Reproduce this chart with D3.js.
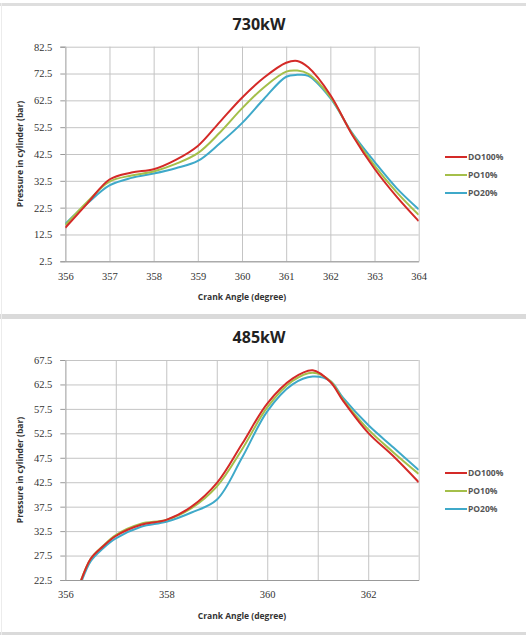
<!DOCTYPE html>
<meta charset="utf-8">
<style>
body { margin: 0; background: #fff; }
.grid line { stroke: #c4c4c4; stroke-width: 1; }
.tick text { font-family: "Liberation Serif", serif; font-size: 10.5px; fill: #333; }
.title { font-family: "Open Sans", sans-serif; font-weight: bold; font-size: 16px; fill: #222; }
.axtitle { font-family: "Open Sans", sans-serif; font-weight: bold; font-size: 8.5px; fill: #333; }
.legend text { font-family: "Open Sans", sans-serif; font-weight: bold; font-size: 8.5px; fill: #555; }
</style>
<svg width="526" height="638"></svg>
<script src="https://d3js.org/d3.v7.min.js"></script>
<script>

var series = ["DO100%", "PO10%", "PO20%"],
    colors = ["#d42a28", "#a4bf4a", "#3fa9c9"];

// 730kW panel
var angle730 = [356, 356.5, 357, 357.5, 358, 358.5, 359, 359.5, 360, 360.5, 361, 361.25, 361.5, 362, 362.5, 363, 363.5, 364];
var do730 = [15.0, 24.1, 33.0, 35.6, 36.8, 40.3, 45.5, 54.5, 63.5, 71.0, 76.5, 77.2, 74.8, 64.5, 49.5, 37.0, 26.6, 17.5];
var po10_730 = [16.0, 24.7, 32.2, 34.5, 36.0, 38.8, 42.8, 50.5, 59.5, 67.4, 73.2, 73.6, 72.4, 63.8, 49.8, 38.2, 28.3, 19.8];
var po20_730 = [16.5, 24.1, 30.8, 33.6, 35.2, 37.2, 39.9, 46.5, 54.0, 63.1, 71.3, 72.0, 71.6, 63.3, 50.2, 39.6, 29.8, 21.9];
var yTicks730 = [2.5, 12.5, 22.5, 32.5, 42.5, 52.5, 62.5, 72.5, 82.5];
var xTicks730 = [356, 357, 358, 359, 360, 361, 362, 363, 364];

// 485kW panel
var angle485 = [356, 356.2, 356.5, 356.75, 357, 357.5, 358, 358.5, 359, 359.5, 360, 360.5, 360.9, 361.25, 361.5, 362, 362.5, 363];
var do485 = [14.5, 19.3, 26.8, 29.4, 31.5, 33.8, 34.8, 37.5, 42.3, 50.3, 58.6, 63.7, 65.4, 63.0, 59.2, 52.6, 47.8, 42.5];
var po10_485 = [14.8, 19.5, 26.8, 29.5, 31.7, 34.0, 34.8, 37.2, 41.6, 49.2, 57.8, 63.2, 64.9, 63.2, 59.4, 53.3, 48.6, 44.2];
var po20_485 = [14.5, 19.0, 26.3, 29.0, 31.0, 33.4, 34.4, 36.3, 38.9, 47.5, 57.0, 62.5, 64.1, 63.2, 59.8, 54.2, 49.6, 45.0];
var yTicks485 = [22.5, 27.5, 32.5, 37.5, 42.5, 47.5, 52.5, 57.5, 62.5, 67.5];
var xGrid485 = [356, 357, 358, 359, 360, 361, 362, 363];
var xTicks485 = [356, 358, 360, 362];

var svg = d3.select("svg");

// panel frames (light gray bands)
svg.append("rect").attr("x", 0).attr("y", 3).attr("width", 526).attr("height", 3).attr("fill", "#dedede");
svg.append("rect").attr("x", 0).attr("y", 314).attr("width", 526).attr("height", 5).attr("fill", "#dadada");
svg.append("rect").attr("x", 0).attr("y", 632).attr("width", 526).attr("height", 3).attr("fill", "#dadada");
svg.append("rect").attr("x", 1).attr("y", 3).attr("width", 1).attr("height", 632).attr("fill", "#ececec");

function panel(opt) {
  var x = d3.scaleLinear().domain(opt.xDomain).range([65.3, 418.7]),
      y = d3.scaleLinear().domain(opt.yDomain).range([opt.bottom, opt.top]);

  var g = svg.append("g");
  var clipId = "clip" + Math.round(opt.top);
  g.append("clipPath").attr("id", clipId)
    .append("rect").attr("x", x.range()[0]).attr("y", opt.top)
    .attr("width", x.range()[1] - x.range()[0]).attr("height", opt.bottom - opt.top);

  // horizontal gridlines + y labels
  g.append("g").attr("class", "grid")
    .attr("transform", "translate(" + x.range()[0] + ",0)")
    .call(d3.axisLeft(y).tickValues(opt.yTicks).tickSize(-(x.range()[1] - x.range()[0])).tickFormat(d3.format(".1f")))
    .call(function(s) { s.select(".domain").remove(); });
  g.selectAll(".grid .tick text").attr("x", -13);
  // short outside tick marks
  g.append("g")
    .attr("transform", "translate(" + x.range()[0] + ",0)")
    .call(d3.axisLeft(y).tickValues(opt.yTicks).tickSize(5).tickFormat(""))
    .call(function(s) {
      s.selectAll("line").attr("stroke", "#999");
      s.select(".domain").attr("stroke", "#999");
    });

  // vertical gridlines
  g.append("g").attr("class", "grid")
    .attr("transform", "translate(0," + opt.bottom + ")")
    .call(d3.axisBottom(x).tickValues(opt.xGrid).tickSize(-(opt.bottom - opt.top)).tickFormat(""))
    .call(function(s) { s.select(".domain").remove(); });

  // x axis labels
  g.append("g")
    .attr("transform", "translate(0," + opt.bottom + ")")
    .call(d3.axisBottom(x).tickValues(opt.xTicks).tickSize(0).tickPadding(11).tickFormat(d3.format("d")))
    .call(function(s) { s.select(".domain").attr("stroke", "#999"); });

  var line = d3.line()
    .x(function(d) { return x(d[0]); })
    .y(function(d) { return y(d[1]); })
    .curve(d3.curveCatmullRom.alpha(0.5));

  var lines = g.append("g").attr("clip-path", "url(#" + clipId + ")");
  [2, 1, 0].forEach(function(i) {
    lines.append("path")
      .datum(opt.xs.map(function(a, j) { return [a, opt.ys[i][j]]; }))
      .attr("fill", "none")
      .attr("stroke", colors[i])
      .attr("stroke-width", 2)
      .attr("d", line);
  });

  g.append("text").attr("class", "title")
    .attr("x", 259).attr("y", opt.top - 17)
    .attr("text-anchor", "middle").text(opt.title);

  g.append("text").attr("class", "axtitle")
    .attr("x", 242).attr("y", opt.bottom + 39)
    .attr("text-anchor", "middle").text("Crank Angle (degree)");

  g.append("text").attr("class", "axtitle")
    .attr("transform", "translate(23," + ((opt.top + opt.bottom) / 2) + ") rotate(-90)")
    .attr("text-anchor", "middle").text("Pressure in cylinder (bar)");

  var lg = g.append("g").attr("class", "legend");
  series.forEach(function(s, i) {
    var ly = opt.legendY + i * 18;
    lg.append("line").attr("x1", 445).attr("x2", 467).attr("y1", ly).attr("y2", ly)
      .attr("stroke", colors[i]).attr("stroke-width", 2);
    lg.append("text").attr("x", 468).attr("y", ly).attr("dy", "0.35em").text(s);
  });
}

panel({
  title: "730kW", top: 46.7, bottom: 261.3,
  xDomain: [356, 364], yDomain: [2.5, 82.5],
  yTicks: yTicks730, xGrid: xTicks730, xTicks: xTicks730,
  xs: angle730, ys: [do730, po10_730, po20_730], legendY: 157
});

panel({
  title: "485kW", top: 360, bottom: 580,
  xDomain: [356, 363], yDomain: [22.5, 67.5],
  yTicks: yTicks485, xGrid: xGrid485, xTicks: xTicks485,
  xs: angle485, ys: [do485, po10_485, po20_485], legendY: 473
});

</script>
